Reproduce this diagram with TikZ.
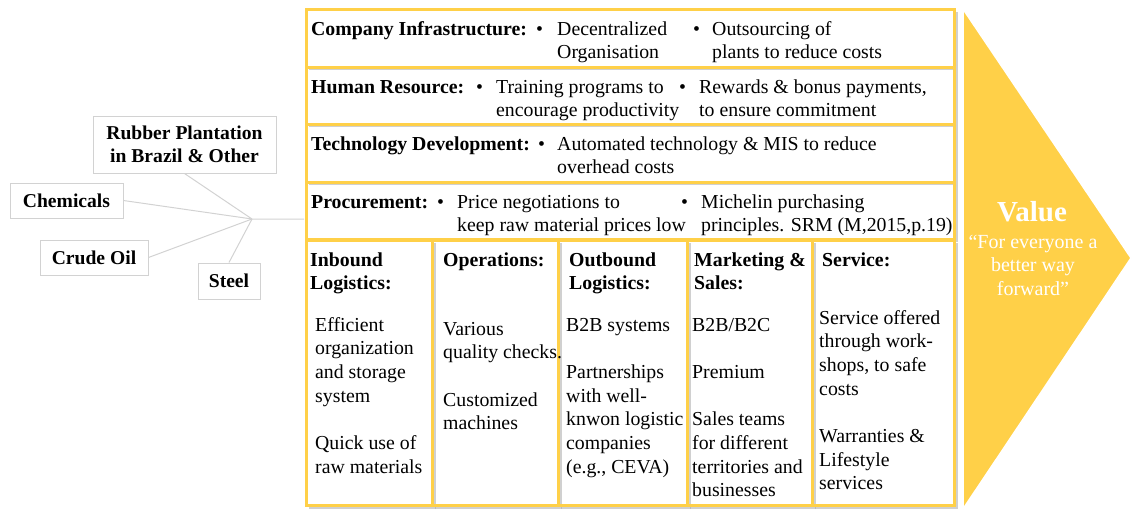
\documentclass[tikz,border=0pt]{standalone}
\usepackage{fontspec}
\setmainfont{Liberation Serif}
\definecolor{vcyellow}{RGB}{255,208,72}
\definecolor{vcgray}{RGB}{210,210,210}
\definecolor{vcshade}{RGB}{170,170,170}
\newcommand{\vcstack}[1]{\begin{tabular}[t]{@{}l@{}}#1\end{tabular}}

\begin{document}
\begin{tikzpicture}[x=1pt,y=-1pt,
  font=\fontsize{19.8}{23.7}\selectfont,
  txt/.style={anchor=base west,inner sep=0pt},
  head/.style={txt,font=\fontsize{19.8}{23.5}\selectfont\bfseries},
  supplier/.style={draw=vcgray,line width=1pt,fill=white,inner sep=0pt,
    font=\fontsize{19.6}{23.5}\selectfont\bfseries,align=center},
  cell/.style={draw=vcyellow,line width=3pt},
  boxshade/.style={draw=vcshade,line width=2.5pt,opacity=0.55},
  link/.style={draw=vcgray,line width=1pt}]
  \useasboundingbox (0,0) rectangle (1132,512);

  % value arrow
  \fill[vcyellow,draw=white,line width=1.5pt] (963,9) -- (1131,258) -- (963,509) -- cycle;
  \node[inner sep=0pt,text=white,font=\fontsize{29}{30}\selectfont\bfseries,anchor=base] (value) at (1032,221) {Value};
  \node[inner sep=0pt,text=white,align=center,font=\fontsize{20}{23.5}\selectfont,anchor=base] (motto) at (1033,295)
    {``For everyone a\\better way\\forward''};

  % support and primary activity boxes
  \foreach \ya/\yb in {9/67,67/124,124/182,182/239}
    \fill[white] (306,\ya) rectangle (954,\yb);
  \foreach \xa/\xb in {306/432,432/558,558/687,687/812,812/954}
    \fill[white] (\xa,240) rectangle (\xb,505);
  \foreach \ya/\yb in {9/67,67/124,124/182,182/239}
    \draw[boxshade] (957,\ya+3) -- (957,\yb+2) -- (309,\yb+2);
  \foreach \xa/\xb in {306/432,432/558,558/687,687/812,812/954}
    \draw[boxshade] (\xb+3,243) -- (\xb+3,508) -- (\xa+3,508);
  \foreach \ya/\yb in {9/67,67/124,124/182,182/239}
    \draw[cell] (306,\ya) rectangle (954,\yb);
  \foreach \xa/\xb in {306/432,432/558,558/687,687/812,812/954}
    \draw[cell] (\xa,240) rectangle (\xb,505);

  % support activities
  \node[head] (infra) at (311,35) {Company Infrastructure:};
  \node[txt] (infraA) at (557,35) {\vcstack{Decentralized\\Organisation}};
  \node[txt] (infraB) at (712,35) {\vcstack{Outsourcing of\\plants to reduce costs}};
  \node[head] (hr) at (311,93) {Human Resource:};
  \node[txt] (hrA) at (496,93) {\vcstack{Training programs to\\encourage productivity}};
  \node[txt] (hrB) at (699,93) {\vcstack{Rewards \& bonus payments,\\to ensure commitment}};
  \node[head] (tech) at (311,150) {Technology Development:};
  \node[txt] (techA) at (557,150) {\vcstack{Automated technology \& MIS to reduce\\overhead costs}};
  \node[head] (proc) at (311,208) {Procurement:};
  \node[txt] (procA) at (457,208) {\vcstack{Price negotiations to\\keep raw material prices low}};
  \node[txt] (procB) at (701,208) {\vcstack{Michelin purchasing\\principles. SRM (M,2015,p.19)}};
  \foreach \bx/\by in {536/35,693/35,476/93,679/93,538/150,437/208,681/208}
    \node[txt] at (\bx,\by) {•};

  % primary activities
  \node[head] (inb) at (310,266) {\vcstack{Inbound\\Logistics:}};
  \node[txt] (inbT) at (315,331) {\vcstack{Efficient\\organization\\and storage\\system\\[23.7pt]Quick use of\\raw materials}};
  \node[head] (ops) at (443,266) {Operations:};
  \node[txt] (opsT) at (443,335) {\vcstack{Various\\quality checks.\\[23.7pt]Customized\\machines}};
  \node[head] (outb) at (569,266) {\vcstack{Outbound\\Logistics:}};
  \node[txt] (outbT) at (566,331) {\vcstack{B2B systems\\[23.7pt]Partnerships\\with well-\\knwon logistic\\companies\\(e.g., CEVA)}};
  \node[head] (mkt) at (694,266) {\vcstack{Marketing \&\\Sales:}};
  \node[txt] (mktT) at (692,331) {\vcstack{B2B/B2C\\[23.7pt]Premium\\[23.7pt]Sales teams\\for different\\territories and\\businesses}};
  \node[head] (serv) at (822,266) {Service:};
  \node[txt] (servT) at (819,324) {\vcstack{Service offered\\through work-\\shops, to safe\\costs\\[23.7pt]Warranties \&\\Lifestyle\\services}};

  % suppliers
  \node[supplier,minimum width=183,minimum height=57] (rubber) at (184.5,144.5) {Rubber Plantation\\in Brazil \& Other};
  \node[supplier,minimum width=113,minimum height=35] (chem) at (66.5,200.5) {Chemicals};
  \node[supplier,minimum width=108,minimum height=35] (crude) at (94,257.5) {Crude Oil};
  \node[supplier,minimum width=62,minimum height=36] (steel) at (229,281) {Steel};
  \coordinate (hub) at (252,219);
  \coordinate (chain) at (304,219);
  \draw[link] (rubber.south) -- (hub) -- (chain);
  \draw[link] (chem.east) -- (hub);
  \draw[link] (crude.east) -- (hub);
  \draw[link] (steel.north) -- (hub);
\end{tikzpicture}
\end{document}
